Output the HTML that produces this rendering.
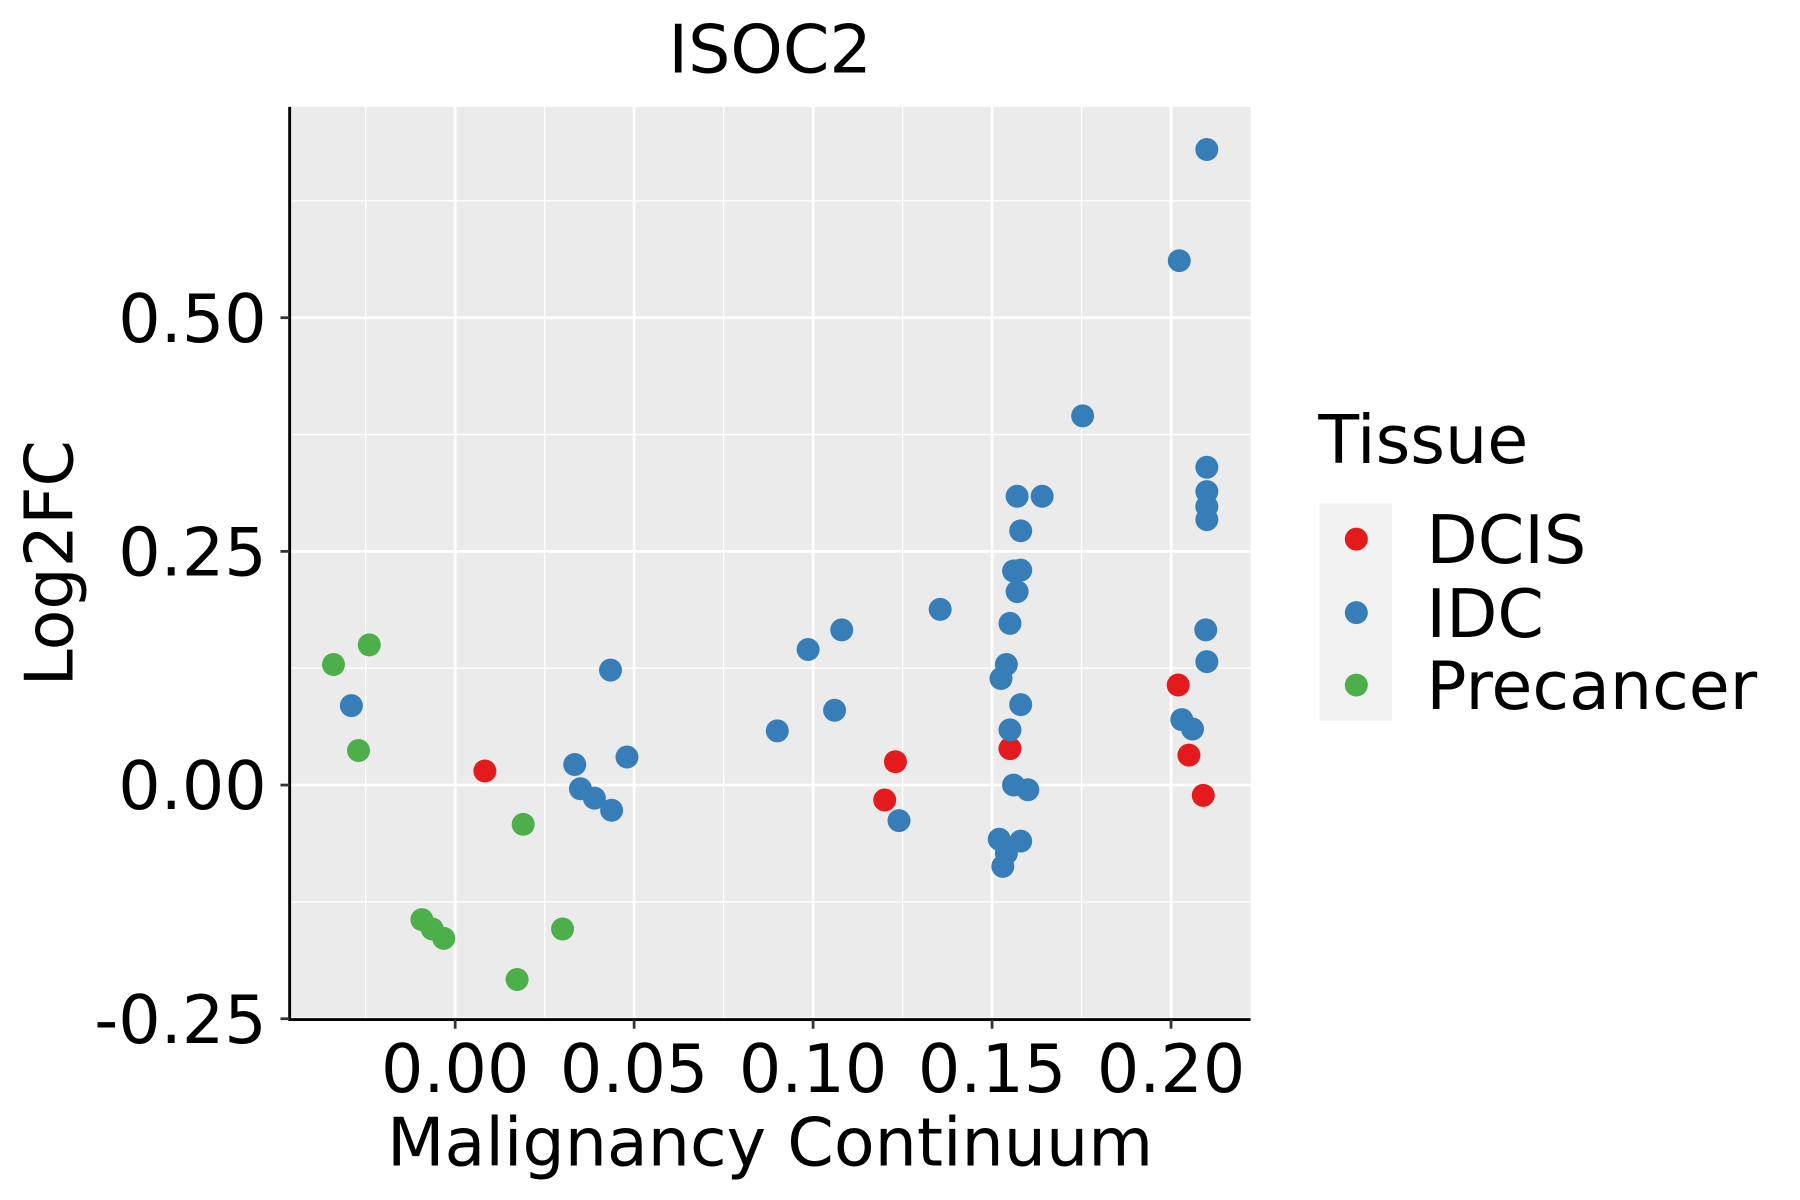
<!DOCTYPE html>
<html><head><meta charset="utf-8"><style>html,body{margin:0;padding:0;background:#fff}svg{display:block}text{font-family:"DejaVu Sans","Liberation Sans",sans-serif;fill:#000}</style></head>
<body>
<svg id="chart" width="1800" height="1200" viewBox="0 0 1566 1044" preserveAspectRatio="none" xmlns="http://www.w3.org/2000/svg">
<text x="670" y="63" font-size="58" text-anchor="middle">ISOC2</text>
<rect x="252" y="93" width="836" height="794" fill="#ebebeb"/>
<g id="grid"></g>
<g id="points"></g>
<line x1="252" y1="93" x2="252" y2="888" stroke="#000" stroke-width="2.5"/>
<line x1="251" y1="887" x2="1088" y2="887" stroke="#000" stroke-width="2.5"/>
<g id="ticks"></g>
<text x="670" y="1014" font-size="58" text-anchor="middle">Malignancy Continuum</text>
<text transform="translate(63,490) rotate(-90)" font-size="58" text-anchor="middle">Log2FC</text>
<g>
<text x="1147" y="403" font-size="58">Tissue</text>
<rect x="1148" y="438" width="63" height="189" fill="#f2f2f2"/>
<circle cx="1180" cy="469" r="10" fill="#e41a1c"/>
<circle cx="1180" cy="533" r="10" fill="#377eb8"/>
<circle cx="1180" cy="596" r="10" fill="#4daf4a"/>
<text x="1241" y="490" font-size="58">DCIS</text>
<text x="1241" y="554" font-size="58">IDC</text>
<text x="1241" y="617" font-size="58">Precancer</text>
</g>
</svg>
<script>
const xTicks=[0,0.05,0.1,0.15,0.2];
const xTickLabels=["0.00","0.05","0.10","0.15","0.20"];
const yTicks=[-0.25,0,0.25,0.5];
const yTickLabels=["-0.25","0.00","0.25","0.50"];
const precancerX=[-0.034,-0.024,-0.027,-0.0093,-0.0064,-0.0032,0.019,0.0173,0.030];
const precancerY=[0.129,0.150,0.037,-0.144,-0.154,-0.164,-0.042,-0.208,-0.154];
const dcisX=[0.0083,0.120,0.123,0.155,0.202,0.205,0.209];
const dcisY=[0.015,-0.016,0.025,0.039,0.107,0.032,-0.011];
const idcX=[-0.029,0.0334,0.035,0.0389,0.0437,0.0434,0.048,0.090,0.0986,0.108,0.106,0.124,0.1355,0.157,0.164,0.158,0.156,0.158,0.157,0.155,0.154,0.1525,0.158,0.155,0.156,0.160,0.152,0.158,0.154,0.153,0.1753,0.2023,0.210,0.210,0.210,0.210,0.210,0.2097,0.210,0.203,0.206];
const idcY=[0.085,0.022,-0.004,-0.014,-0.027,0.123,0.030,0.058,0.145,0.166,0.080,-0.038,0.188,0.309,0.309,0.272,0.229,0.230,0.207,0.173,0.129,0.114,0.086,0.059,0.000,-0.005,-0.058,-0.060,-0.073,-0.087,0.395,0.561,0.680,0.340,0.314,0.298,0.284,0.166,0.132,0.070,0.060];
const NS="http://www.w3.org/2000/svg";
function sx(v){return 396+v*3114;}
function sy(v){return 683-v*813.2;}
function mk(tag,attrs,parent){const e=document.createElementNS(NS,tag);for(const k in attrs)e.setAttribute(k,attrs[k]);parent.appendChild(e);return e;}
const grid=document.getElementById('grid'),ticks=document.getElementById('ticks'),pts=document.getElementById('points');
for(let i=0;i<xTicks.length;i++){
  const l=mk('line',{x1:sx(xTicks[i]-0.025),x2:sx(xTicks[i]-0.025),y1:93,y2:887,stroke:'#fff','stroke-width':1.2},grid);
  
  
}
for(let i=0;i<yTicks.length;i++){
  const v=yTicks[i]+0.125;
  const l=mk('line',{x1:252,x2:1088,y1:sy(v),y2:sy(v),stroke:'#fff','stroke-width':1.2},grid);
  
  
}
for(let i=0;i<xTicks.length;i++){
  const x=sx(xTicks[i]);
  const l=mk('line',{x1:x,x2:x,y1:93,y2:887,stroke:'#fff','stroke-width':2.4},grid);
  
  
  const t=mk('line',{x1:x,x2:x,y1:887,y2:895,stroke:'#333','stroke-width':2.4},ticks);
  
  
  const tx=mk('text',{x:x,y:950,'font-size':58,'text-anchor':'middle'},ticks);
  tx.textContent=xTickLabels[i];
  
  
}
for(let i=0;i<yTicks.length;i++){
  const y=sy(yTicks[i]);
  const l=mk('line',{x1:252,x2:1088,y1:y,y2:y,stroke:'#fff','stroke-width':2.4},grid);
  
  
  const t=mk('line',{x1:244,x2:252,y1:y,y2:y,stroke:'#333','stroke-width':2.4},ticks);
  
  
  const tx=mk('text',{x:232,y:y+21,'font-size':58,'text-anchor':'end'},ticks);
  tx.textContent=yTickLabels[i];
  
  
}
function series(xs,ys,color,name){
  for(let i=0;i<xs.length;i++){
    const c=mk('circle',{cx:sx(xs[i]),cy:sy(ys[i]),r:10,fill:color},pts);
    
    
  }
}
series(precancerX,precancerY,'#4daf4a','point-precancer');
series(dcisX,dcisY,'#e41a1c','point-dcis');
series(idcX,idcY,'#377eb8','point-idc');
</script>
</body></html>
